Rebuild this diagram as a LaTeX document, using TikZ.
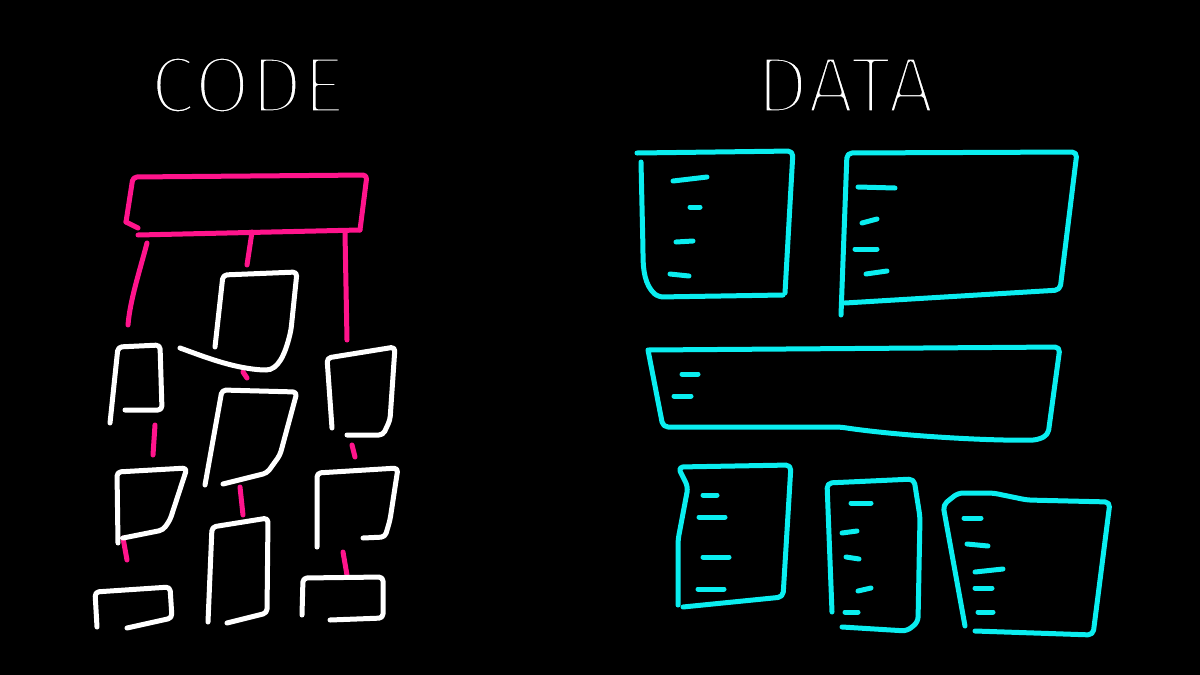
\documentclass[tikz,border=0pt]{standalone}
\usepackage{fontspec}
\newfontfamily\thinfont{Fira Sans}
\definecolor{hotpink}{RGB}{255, 20, 140}
\definecolor{aqua}{RGB}{10, 238, 240}
\usetikzlibrary{
    calc
}
% thin the glyphs with a black outline stroke
\newcommand{\hairline}[1]{\special{pdf:literal direct 0 0 0 RG 5 w 1 j 2 Tr}#1\special{pdf:literal direct 0 Tr}}
\tikzstyle{title} = [
    text=white,
    font=\thinfont\fontsize{81}{81}\selectfont,
    inner sep=0pt
]
\tikzstyle{codebox} = [
    draw=white,
    line width=5pt,
    line cap=round,
    line join=round,
    rounded corners=4pt
]
\tikzstyle{link} = [
    draw=hotpink,
    line width=5pt,
    line cap=round,
    line join=round,
    rounded corners=4pt
]
\tikzstyle{databox} = [
    draw=aqua,
    line width=5pt,
    line cap=round,
    line join=round,
    rounded corners=5pt
]
\tikzstyle{field} = [
    draw=aqua,
    line width=5pt,
    line cap=round
]
\begin{document}
\begin{tikzpicture}[x=1pt, y=-1pt]
        \fill[black] (0,0) rectangle (1200,675);

        % Titles
        \node[title] (code) at (248,85) {\hairline{CODE}};
        \node[title] (data) at (845,85) {\hairline{DATA}};

        % Code: top bar and links
        \draw[link] (126,222) -- (133,177) -- (367,175) -- (360,230);
        \draw[link] (126,222) -- (138,228);
        \draw[link] (138,235) -- (360,230);
        \draw[link] (147,243) .. controls (140,270) and (130,300) .. (128,325);
        \draw[link] (252,232) -- (247,265);
        \draw[link] (345,233) -- (347,340);
        \draw[link] (155,425) -- (153,455);
        \draw[link] (243,372) -- (247,378);
        \draw[link] (352,445) -- (355,457);
        \draw[link] (123,538) -- (127,560);
        \draw[link] (240,487) -- (243,515);
        \draw[link] (343,552) -- (347,575);

        % Code: boxes
        \draw[codebox] (215,347) -- (223,275) -- (297,272) -- (291,330)
            .. controls (285,355) and (278,370) .. (262,370)
            .. controls (230,367) and (205,357) .. (180,348);
        \draw[codebox] (110,423) -- (118,347) -- (160,345) -- (162,410) -- (125,410);
        \draw[codebox] (332,428) -- (327,358) -- (395,347) -- (390,420) -- (383,435) -- (347,435);
        \draw[codebox] (205,485) -- (222,390) -- (297,392) -- (280,455) -- (267,473) -- (223,484);
        \draw[codebox] (118,543) -- (117,472) -- (187,468) -- (170,520) -- (163,530) -- (123,538);
        \draw[codebox] (97,627) -- (95,592) -- (170,587) -- (172,618) -- (127,628);
        \draw[codebox] (208,622) -- (212,527) -- (268,518) -- (267,613) -- (227,623);
        \draw[codebox] (317,547) -- (317,473) -- (398,468) -- (390,520) -- (385,537) -- (363,538);
        \draw[codebox] (302,615) -- (303,578) -- (383,577) -- (383,618) -- (330,620);

        % Data: records
        \draw[databox] (637,153) -- (793,151) -- (785,293);
        \draw[databox] (783,295) -- (658,297) .. controls (645,285) and (643,270) .. (643,250) -- (641,162);
        \draw[field] (673,181) -- (707,177);
        \draw[field] (690,207) -- (700,207);
        \draw[field] (676,242) -- (693,241);
        \draw[field] (670,274) -- (689,276);

        \draw[databox] (841,315) -- (847,153) -- (1077,152) -- (1060,290) -- (845,303);
        \draw[field] (858,187) -- (895,188);
        \draw[field] (862,223) -- (877,219);
        \draw[field] (855,249) -- (877,249);
        \draw[field] (866,274) -- (887,271);

        \draw[databox] (648,350) -- (1060,347) -- (1048,435) -- (1037,440)
            .. controls (990,441) and (900,436) .. (840,427) -- (663,427) -- (648,350);
        \draw[field] (682,374) -- (698,374);
        \draw[field] (674,396) -- (691,396);

        \draw[databox] (678,605) -- (678,540) -- (688,487) -- (678,467) -- (791,465) -- (783,597) -- (683,607);
        \draw[field] (703,495) -- (717,495);
        \draw[field] (699,517) -- (725,517);
        \draw[field] (703,557) -- (729,557);
        \draw[field] (698,589) -- (724,589);

        \draw[databox] (832,612) -- (827,483) -- (914,479) -- (920,517) -- (918,622) -- (907,631) -- (842,627);
        \draw[field] (851,503) -- (871,503);
        \draw[field] (842,533) -- (857,531);
        \draw[field] (846,557) -- (859,559);
        \draw[field] (858,591) -- (871,588);
        \draw[field] (845,612) -- (858,612);

        \draw[databox] (965,626) -- (943,505) -- (958,493) -- (993,493) -- (1027,500) -- (1110,502) -- (1093,635) -- (975,631);
        \draw[field] (964,518) -- (981,518);
        \draw[field] (967,544) -- (988,546);
        \draw[field] (975,572) -- (1003,569);
        \draw[field] (975,588) -- (992,588);
        \draw[field] (978,612) -- (993,612);
    \end{tikzpicture}
\end{document}
